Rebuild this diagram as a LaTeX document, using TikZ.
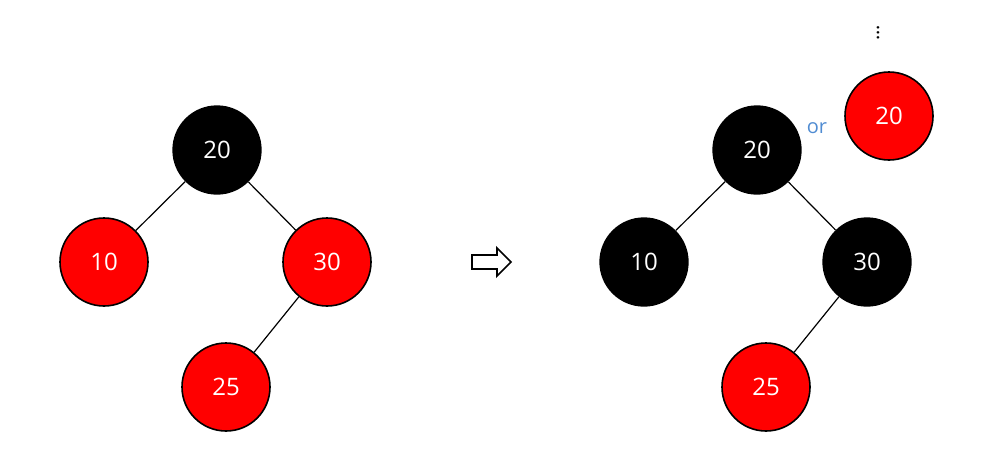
\documentclass[tikz,border=0pt]{standalone}
\usepackage{fontspec}
\setmainfont{Open Sans}
\begin{document}
\begin{tikzpicture}[x=0.75pt,y=-0.75pt,
  rb/.style={circle,draw=black,line width=1.2pt,fill=red,text=white,minimum size=66pt,inner sep=0pt,font=\fontsize{18}{20}\selectfont},
  bb/.style={circle,fill=black,text=white,minimum size=67pt,inner sep=0pt,font=\fontsize{18}{20}\selectfont},
  edge/.style={draw=black,line width=0.9pt}]
\useasboundingbox (0,0) rectangle (998,468);
\node[bb] (a20) at (217,150) {20};
\node[rb] (a10) at (104,262) {10};
\node[rb] (a30) at (327,262) {30};
\node[rb] (a25) at (226,387) {25};
\draw[edge] (a20) -- (a10);
\draw[edge] (a20) -- (a30);
\draw[edge] (a30) -- (a25);
\draw[line width=1.3pt,line join=miter] (472,255) -- (497,255) -- (497,248) -- (511,262) -- (497,276) -- (497,269) -- (472,269) -- cycle;
\node[bb] (b20) at (757,150) {20};
\node[bb] (b10) at (644,262) {10};
\node[bb] (b30) at (867,262) {30};
\node[rb] (b25) at (766,387) {25};
\node[rb] (c20) at (889,116) {20};
\draw[edge] (b20) -- (b10);
\draw[edge] (b20) -- (b30);
\draw[edge] (b30) -- (b25);
\node[text={rgb,255:red,80;green,140;blue,210},font=\fontsize{15}{17}\selectfont] (or) at (817,128) {or};
\node[font=\fontsize{15}{17}\selectfont] (dots) at (878,33) {\rotatebox{90}{...}};
\end{tikzpicture}
\end{document}
